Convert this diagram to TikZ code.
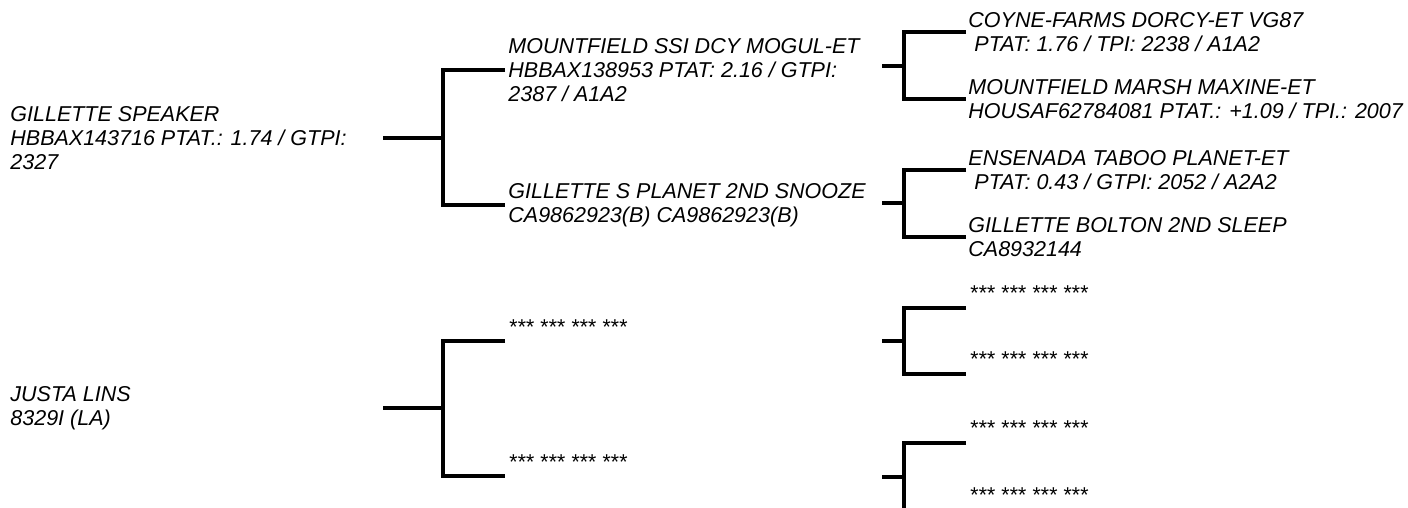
\documentclass[tikz,border=0pt]{standalone}
\usepackage{fontspec}
\setmainfont{Liberation Sans}
\usetikzlibrary{positioning}
\tikzset{
  cow/.style={anchor=west,align=left,inner xsep=1.5pt,inner ysep=0pt,font=\fontsize{10.75}{12}\selectfont\itshape},
  unknown/.style={cow,inner xsep=1.5pt},
  link/.style={line width=1.6pt}
}
\begin{document}
\begin{tikzpicture}[x=0.5pt,y=-0.5pt]
\useasboundingbox (0,0) rectangle (1408,508);
\clip (0,0) rectangle (1408,508);
% sire and his parents
\node[cow] (sire) at (7,138) {GILLETTE SPEAKER\\HBBAX143716 PTAT.: 1.74 / GTPI:\\2327};
\coordinate (sire stem) at (383,138);
\coordinate (sire fork) at (443,138);
\node[cow] (ss) at (505,70) {MOUNTFIELD SSI DCY MOGUL-ET\\HBBAX138953 PTAT: 2.16 / GTPI:\\2387 / A1A2};
\node[cow] (sd) at (505,205) {GILLETTE S PLANET 2ND SNOOZE\\CA9862923(B) CA9862923(B)};
\draw[link] (sire stem) -- (sire fork);
\draw[link] (ss.west) -| (sire fork) |- (sd.west);
% grandparents
\coordinate (ss stem) at (882,66);
\coordinate (ss fork) at (904,66);
\node[cow,inner xsep=1pt] (sss) at (966,32) {COYNE-FARMS DORCY-ET VG87\\\hspace*{.28em}PTAT: 1.76 / TPI: 2238 / A1A2};
\node[cow,inner xsep=1pt] (ssd) at (966,99) {MOUNTFIELD MARSH MAXINE-ET\\HOUSAF62784081 PTAT.: +1.09 / TPI.: 2007};
\draw[link] (ss stem) -- (ss fork);
\draw[link] (sss.west) -| (ss fork) |- (ssd.west);
\coordinate (sd stem) at (882,203);
\coordinate (sd fork) at (904,203);
\node[cow,inner xsep=1pt] (sds) at (966,170) {ENSENADA TABOO PLANET-ET\\\hspace*{.28em}PTAT: 0.43 / GTPI: 2052 / A2A2};
\node[cow,inner xsep=1pt] (sdd) at (966,237) {GILLETTE BOLTON 2ND SLEEP\\CA8932144};
\draw[link] (sd stem) -- (sd fork);
\draw[link] (sds.west) -| (sd fork) |- (sdd.west);
% dam side, unknown ancestors
\node[cow] (dam) at (7,408) {JUSTA LINS\\8329I (LA)};
\coordinate (dam stem) at (383,408);
\coordinate (dam fork) at (443,408);
\coordinate (ds) at (505,341);
\coordinate (dd) at (505,476);
\node[unknown,above right=3pt and 0pt of ds] (ds name) {*** *** *** ***};
\node[unknown,above right=3pt and 0pt of dd] (dd name) {*** *** *** ***};
\draw[link] (dam stem) -- (dam fork);
\draw[link] (ds) -| (dam fork) |- (dd);
\coordinate (ds stem) at (882,341);
\coordinate (ds fork) at (904,341);
\coordinate (dss) at (966,308);
\coordinate (dsd) at (966,374);
\node[unknown,above right=3.5pt and 0pt of dss] (dss name) {*** *** *** ***};
\node[unknown,above right=3.5pt and 0pt of dsd] (dsd name) {*** *** *** ***};
\draw[link] (ds stem) -- (ds fork);
\draw[link] (dss) -| (ds fork) |- (dsd);
\coordinate (dd stem) at (882,477);
\coordinate (dd fork) at (904,477);
\coordinate (dds) at (966,443);
\coordinate (ddd) at (966,510);
\coordinate (dd end) at (904,508);
\node[unknown,above right=3.5pt and 0pt of dds] (dds name) {*** *** *** ***};
\node[unknown,above right=3.5pt and 0pt of ddd] (ddd name) {*** *** *** ***};
\draw[link] (dd stem) -- (dd fork);
\draw[link] (dds) -| (dd fork) -- (dd end);
\end{tikzpicture}
\end{document}
